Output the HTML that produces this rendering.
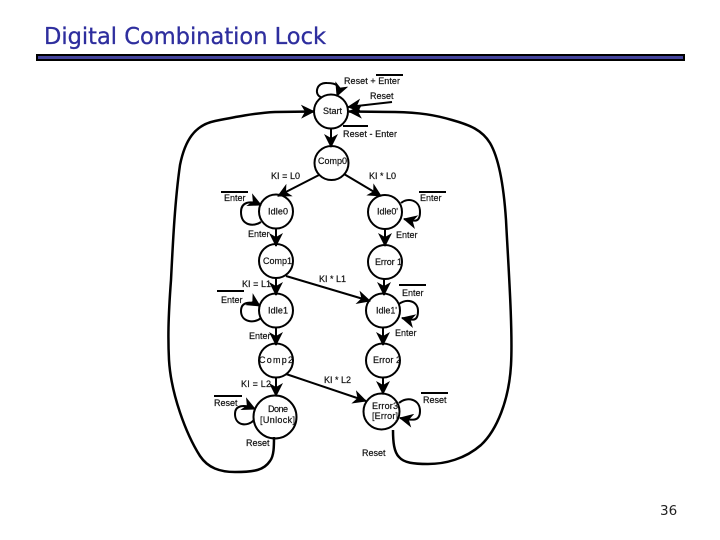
<!DOCTYPE html>
<html><head><meta charset="utf-8"><style>
html,body{margin:0;padding:0;background:#fff}
svg{display:block}
.l{font:9px "Liberation Sans",sans-serif;fill:#111;stroke:#111;stroke-width:.2}
</style></head><body>
<svg width="720" height="540" viewBox="0 0 720 540" xmlns="http://www.w3.org/2000/svg">
<defs>
<marker id="a" markerUnits="userSpaceOnUse" markerWidth="16" markerHeight="14" refX="13" refY="7" orient="auto"><path d="M0 0L14 7L0 14L4 7Z" fill="#000"/></marker>
</defs>
<text x="44" y="44" font-family="'DejaVu Sans',sans-serif" font-size="23" fill="#2e2e9e" stroke="#2e2e9e" stroke-width=".3" textLength="282" lengthAdjust="spacingAndGlyphs">Digital Combination Lock</text>
<rect x="36" y="54" width="649" height="7" fill="#000"/>
<rect x="38" y="56" width="645" height="3" fill="#44449c"/>
<text x="660" y="515" font-family="'DejaVu Sans',sans-serif" font-size="13.5" fill="#222">36</text>

<g fill="none" stroke="#000" stroke-width="2">
<circle cx="331" cy="111.500" r="17"/>
<circle cx="331.500" cy="163" r="17"/>
<circle cx="276" cy="211.500" r="17"/>
<circle cx="385" cy="212" r="17"/>
<circle cx="276" cy="261" r="17"/>
<circle cx="385" cy="262" r="17"/>
<circle cx="276" cy="310.500" r="17"/>
<circle cx="383" cy="310.500" r="17"/>
<circle cx="276" cy="360.500" r="17"/>
<circle cx="383" cy="360.500" r="17"/>
<circle cx="275" cy="417" r="21.500"/>
<circle cx="381.500" cy="411.500" r="18"/>

<g marker-end="url(#a)">
<path d="M331 129V147"/>
<path d="M319 175L278 196"/>
<path d="M344 174L381 196"/>
<path d="M276 229V246"/>
<path d="M385 229V246"/>
<path d="M276 278V295"/>
<path d="M384 279V295"/>
<path d="M276 328V345"/>
<path d="M383 328V345"/>
<path d="M276 378V396"/>
<path d="M383 378V394"/>
<path d="M286 276L370 301"/>
<path d="M286 374L366 401"/>
<path d="M392 102L348 107"/>
<path d="M321 97C314 95 316 82 327 83C337 83 341 86 337 96"/>
<path d="M261 222C254 227 241 226 241 212C241 202 250 200 261 205"/>
<path d="M401 203C408 197 420 200 420 212C420 222 416 222 404 219"/>
<path d="M261 318C254 324 241 322 241 311C241 301 252 301 260 306"/>
<path d="M399 304C407 298 418 301 418 311C418 321 414 321 402 318"/>
<path d="M254 420C248 427 235 426 235 414C235 405 244 404 255 409"/>
<path d="M399 403C407 396 420 399 420 411C420 421 414 421 400 418"/>
</g>

<path stroke-width="2.500" marker-end="url(#a)" d="M274 437C274 446 274 456 270 461C264 470 255 472 235 472C220 472 208 468 200 456C186 434 171 394 169 360C168 340 168 320 171 280C173 240 175 200 180 165C185 140 195 125 215 121C235 117 255 113 275 112L314 111.500"/>
<path stroke-width="2.500" marker-end="url(#a)" d="M393 430C393 442 394 452 399 457C404 463 414 464 428 464C445 464 465 459 481 445C497 430 509 400 511 365C513 330 508 260 506 220C504 190 500 160 490 143C482 130 470 125 452 120C435 115 420 112.500 395 112L349 111.500"/>

<path stroke-width="2" d="M376 75H403M343 126H368M221 192H248M419 192H446M217 291H244M399 285H426M214 396H242M421 393H448"/>
</g>

<g class="l">
<text x="344" y="84" textLength="56">Reset + Enter</text>
<text x="370" y="99">Reset</text>
<text x="323" y="114" textLength="19">Start</text>
<text x="343" y="137" textLength="54">Reset - Enter</text>
<text x="318" y="164" textLength="29">Comp0</text>
<text x="271" y="179" textLength="29">KI = L0</text>
<text x="369" y="179" textLength="27">KI * L0</text>
<text x="224" y="201">Enter</text>
<text x="420" y="201">Enter</text>
<text x="268" y="214.500" textLength="20">Idle0</text>
<text x="377" y="214.500" textLength="21">Idle0'</text>
<text x="248" y="237">Enter</text>
<text x="396" y="238">Enter</text>
<text x="263" y="264" textLength="29">Comp1</text>
<text x="375" y="265" textLength="27">Error 1</text>
<text x="319" y="282" textLength="27">KI * L1</text>
<text x="242" y="287" textLength="29">KI = L1</text>
<text x="221" y="303">Enter</text>
<text x="402" y="296">Enter</text>
<text x="268" y="313.500" textLength="20">Idle1</text>
<text x="376" y="313.500" textLength="21">Idle1'</text>
<text x="249" y="339">Enter</text>
<text x="395" y="336">Enter</text>
<text x="259" y="363" textLength="34">Comp2</text>
<text x="373" y="363" textLength="28">Error 2</text>
<text x="324" y="383" textLength="27">KI * L2</text>
<text x="241" y="387" textLength="30">KI = L2</text>
<text x="214" y="406">Reset</text>
<text x="423" y="403">Reset</text>
<text x="268" y="412" textLength="20">Done</text>
<text x="260" y="423" textLength="35">[Unlock]</text>
<text x="372" y="409" textLength="26">Error3</text>
<text x="372" y="419" textLength="26">[Error]</text>
<text x="246" y="446">Reset</text>
<text x="362" y="456">Reset</text>
</g>
</svg>
</body></html>
